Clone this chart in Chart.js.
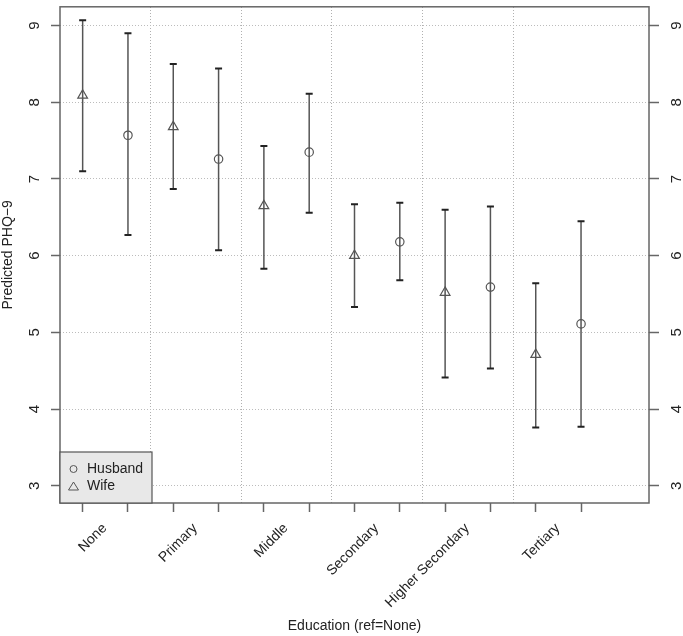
<!DOCTYPE html>
<html>
<head>
<meta charset="utf-8">
<script src="https://cdn.jsdelivr.net/npm/chart.js@4"></script>
<style>
  body { margin: 0; background: #fff; }
  #wrap { width: 683px; height: 636px; }
</style>
</head>
<body>
<div id="wrap"><canvas id="phq-chart"></canvas></div>
<script>
// data
var categories = ["None", "Primary", "Middle", "Secondary", "Higher Secondary", "Tertiary"];
var wifeEst = [8.09, 7.68, 6.65, 6.00, 5.52, 4.71];
var wifeLow = [7.10, 6.87, 5.83, 5.33, 4.41, 3.76];
var wifeHigh = [9.07, 8.50, 7.43, 6.67, 6.60, 5.64];
var husbandEst = [7.57, 7.26, 7.35, 6.18, 5.59, 5.11];
var husbandLow = [6.27, 6.07, 6.56, 5.68, 4.53, 3.77];
var husbandHigh = [8.90, 8.44, 8.11, 6.69, 6.64, 6.45];
var yTicks = [3, 4, 5, 6, 7, 8, 9];

var FONT = "Liberation Sans, Arial, sans-serif";
var INK = "#222";

// wife at odd slots, husband right after
function points(est, offset) {
    var out = [];
    for (var i = 0; i < est.length; i++) {
        out.push({x: 2 * i + 1 + offset, y: est[i]});
    }
    return out;
}
var slots = [];
for (var i = 1; i <= categories.length * 2; i++) slots.push(i);
var groupLines = [];
for (var j = 1; j < categories.length; j++) groupLines.push(2 * j + 0.5);

function setTicks(list) {
    return function (scale) {
        scale.ticks = list.map(function (v) { return {value: v}; });
    };
}

// error bars, tick labels, frame and legend
var extras = {
    id: "extras",
    afterDatasetsDraw: function (chart) {
        var ctx = chart.ctx, xs = chart.scales.x, ys = chart.scales.y;
        ctx.save();
        chart.data.datasets.forEach(function (ds) {
            ds.data.forEach(function (p, k) {
                var px = xs.getPixelForValue(p.x);
                var lo = ys.getPixelForValue(ds.lows[k]);
                var hi = ys.getPixelForValue(ds.highs[k]);
                ctx.strokeStyle = "#555";
                ctx.lineWidth = 1.5;
                ctx.beginPath();
                ctx.moveTo(px, lo);
                ctx.lineTo(px, hi);
                ctx.stroke();
                ctx.strokeStyle = "#222";
                ctx.lineWidth = 2;
                ctx.beginPath();
                ctx.moveTo(px - 3.5, lo); ctx.lineTo(px + 3.5, lo);
                ctx.moveTo(px - 3.5, hi); ctx.lineTo(px + 3.5, hi);
                ctx.stroke();
            });
        });
        ctx.restore();
    },
    afterDraw: function (chart) {
        var ctx = chart.ctx, xs = chart.scales.x, ys = chart.scales.y;
        var area = chart.chartArea;
        ctx.save();
        // frame
        ctx.strokeStyle = "#666";
        ctx.lineWidth = 1.5;
        ctx.strokeRect(area.left, area.top, area.right - area.left, area.bottom - area.top);

        ctx.fillStyle = INK;
        ctx.font = "15px " + FONT;
        // y labels both sides, turned
        yTicks.forEach(function (v) {
            var py = ys.getPixelForValue(v);
            [area.left - 25, area.right + 28].forEach(function (tx) {
                ctx.save();
                ctx.translate(tx, py);
                ctx.rotate(-Math.PI / 2);
                ctx.textAlign = "center";
                ctx.textBaseline = "middle";
                ctx.fillText(String(v), 0, 0);
                ctx.restore();
            });
        });
        // category labels at 45 degrees
        ctx.font = "14px " + FONT;
        categories.forEach(function (c, k) {
            var px = xs.getPixelForValue(2 * k + 1);
            ctx.save();
            ctx.translate(px + 22, area.bottom + 23);
            ctx.rotate(-Math.PI / 4);
            ctx.textAlign = "right";
            ctx.textBaseline = "middle";
            ctx.fillText(c, 0, 0);
            ctx.restore();
        });

        // legend box bottom-left
        var bx = area.left, bh = 51, by = area.bottom - bh, bw = 92;
        ctx.fillStyle = "#e8e8e8";
        ctx.fillRect(bx, by, bw, bh);
        ctx.strokeStyle = "#555";
        ctx.lineWidth = 1.2;
        ctx.strokeRect(bx, by, bw, bh);
        chart.data.datasets.forEach(function (ds, k) {
            var ly = by + 17 + k * 17.5;
            ctx.strokeStyle = "#555";
            ctx.lineWidth = 1;
            ctx.beginPath();
            if (ds.pointStyle === "circle") {
                ctx.arc(bx + 13.5, ly, 3.5, 0, Math.PI * 2);
            } else {
                ctx.moveTo(bx + 13.5, ly - 4.5);
                ctx.lineTo(bx + 18.5, ly + 3.5);
                ctx.lineTo(bx + 8.5, ly + 3.5);
                ctx.closePath();
            }
            ctx.stroke();
            ctx.fillStyle = INK;
            ctx.textAlign = "left";
            ctx.textBaseline = "middle";
            ctx.fillText(ds.label, bx + 27, ly);
        });
        ctx.restore();
    }
};

var chart = new Chart(document.getElementById("phq-chart"), {
    type: "scatter",
    data: {
        datasets: [{
            label: "Husband",
            data: points(husbandEst, 1),
            lows: husbandLow,
            highs: husbandHigh,
            pointStyle: "circle",
            pointRadius: 4.2,
            borderColor: "#555",
            backgroundColor: "transparent",
            pointBorderWidth: 1.2
        }, {
            label: "Wife",
            data: points(wifeEst, 0),
            lows: wifeLow,
            highs: wifeHigh,
            pointStyle: "triangle",
            pointRadius: 5.6,
            borderColor: "#555",
            backgroundColor: "transparent",
            pointBorderWidth: 1.2
        }]
    },
    options: {
        responsive: true,
        maintainAspectRatio: false,
        animation: false,
        layout: {padding: {top: 1, left: 0, right: 0, bottom: 0}},
        plugins: {legend: {display: false}, tooltip: {enabled: false}},
        scales: {
            x: {
                type: "linear", position: "bottom", min: 0.5, max: 13.5,
                afterBuildTicks: setTicks(slots),
                afterFit: function (s) { s.height = 133; },
                ticks: {display: false},
                grid: {drawOnChartArea: false, drawTicks: true, tickLength: 9, tickColor: "#666", tickWidth: 1.5},
                border: {display: false},
                title: {display: true, text: "Education (ref=None)", color: INK,
                        font: {family: FONT, size: 14}, padding: {top: 0, bottom: 1}}
            },
            xg: {
                type: "linear", position: "top", min: 0.5, max: 13.5,
                afterBuildTicks: setTicks(groupLines),
                afterFit: function (s) { s.height = 0; },
                ticks: {display: false},
                grid: {drawTicks: false, color: "#b0b0b0", lineWidth: 1},
                border: {display: false, dash: [1, 2]}
            },
            y: {
                type: "linear", position: "left", min: 2.775, max: 9.245,
                afterBuildTicks: setTicks(yTicks),
                afterFit: function (s) { s.width = 60; },
                ticks: {display: false},
                grid: {color: "#bcbcbc", lineWidth: 1, tickLength: 9, tickColor: "#666", tickWidth: 1.5, tickBorderDash: []},
                border: {display: false, dash: [1, 2]},
                title: {display: true, text: "Predicted PHQ\u22129", color: INK,
                        font: {family: FONT, size: 14}, padding: {top: 0, bottom: 0}}
            },
            y2: {
                type: "linear", position: "right", min: 2.775, max: 9.245,
                afterBuildTicks: setTicks(yTicks),
                afterFit: function (s) { s.width = 34; },
                ticks: {display: false},
                grid: {drawOnChartArea: false, tickLength: 10, tickColor: "#666", tickWidth: 1.5},
                border: {display: false}
            }
        }
    },
    plugins: [extras]
});
</script>
</body>
</html>
